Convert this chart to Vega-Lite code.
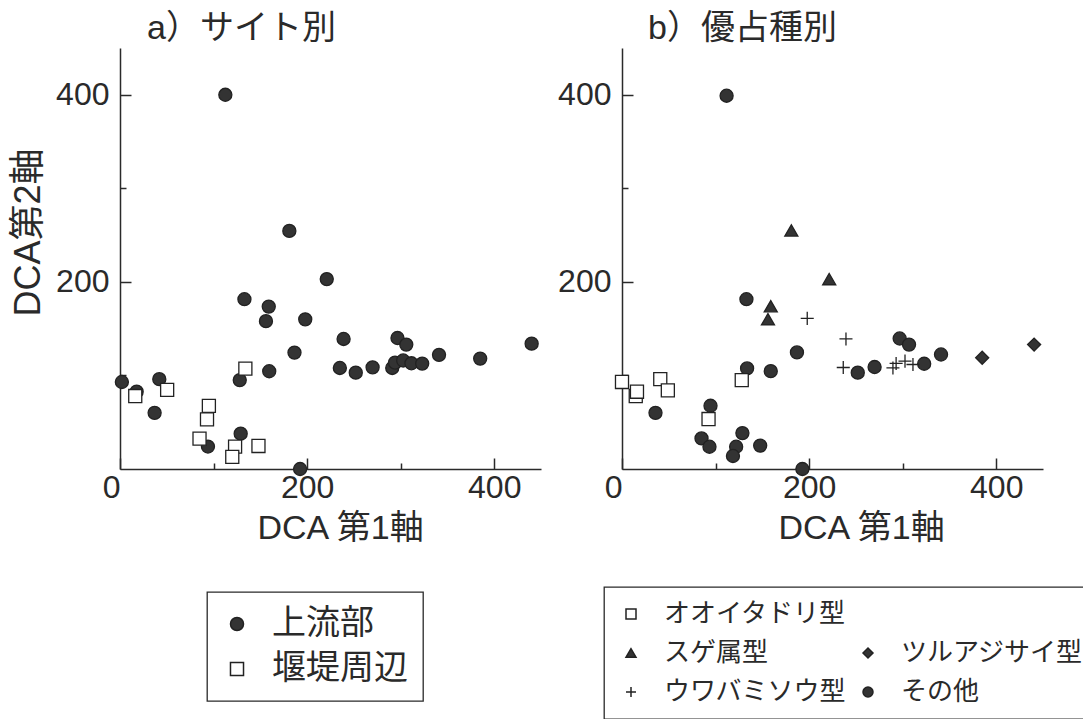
{
  "$schema": "https://vega.github.io/schema/vega-lite/v6.json",
  "padding": {"left": 10, "top": 12, "right": 0, "bottom": 0},
  "spacing": 81,
  "bounds": "flush",
  "datasets": {
    "siteData": [
      {"x": 112.6, "y": 400, "site": "上流部"},
      {"x": 181, "y": 254.5, "site": "上流部"},
      {"x": 221, "y": 203, "site": "上流部"},
      {"x": 133, "y": 181.5, "site": "上流部"},
      {"x": 159, "y": 173.6, "site": "上流部"},
      {"x": 156, "y": 158, "site": "上流部"},
      {"x": 198, "y": 160, "site": "上流部"},
      {"x": 239, "y": 139, "site": "上流部"},
      {"x": 296.6, "y": 140, "site": "上流部"},
      {"x": 306, "y": 133, "site": "上流部"},
      {"x": 440, "y": 134, "site": "上流部"},
      {"x": 186.5, "y": 124.4, "site": "上流部"},
      {"x": 341, "y": 122, "site": "上流部"},
      {"x": 385, "y": 118, "site": "上流部"},
      {"x": 235, "y": 108, "site": "上流部"},
      {"x": 252, "y": 103, "site": "上流部"},
      {"x": 270, "y": 108.7, "site": "上流部"},
      {"x": 291, "y": 108, "site": "上流部"},
      {"x": 294, "y": 113.7, "site": "上流部"},
      {"x": 302.7, "y": 116, "site": "上流部"},
      {"x": 311.5, "y": 113, "site": "上流部"},
      {"x": 323, "y": 112.7, "site": "上流部"},
      {"x": 159.5, "y": 104.5, "site": "上流部"},
      {"x": 128, "y": 95, "site": "上流部"},
      {"x": 2, "y": 93, "site": "上流部"},
      {"x": 42, "y": 96, "site": "上流部"},
      {"x": 37, "y": 60, "site": "上流部"},
      {"x": 129, "y": 37.8, "site": "上流部"},
      {"x": 94, "y": 24, "site": "上流部"},
      {"x": 192.5, "y": 0, "site": "上流部"},
      {"x": 17.8, "y": 82.7, "site": "上流部"},
      {"x": 16.3, "y": 78, "site": "堰堤周辺"},
      {"x": 50.4, "y": 84.5, "site": "堰堤周辺"},
      {"x": 134, "y": 107.3, "site": "堰堤周辺"},
      {"x": 95, "y": 67.4, "site": "堰堤周辺"},
      {"x": 93, "y": 53, "site": "堰堤周辺"},
      {"x": 85, "y": 32.4, "site": "堰堤周辺"},
      {"x": 123, "y": 24, "site": "堰堤周辺"},
      {"x": 120, "y": 13, "site": "堰堤周辺"},
      {"x": 148, "y": 24.6, "site": "堰堤周辺"}
    ],
    "typeData": [
      {"x": 111.8, "y": 399, "type": "その他"},
      {"x": 133, "y": 181.5, "type": "その他"},
      {"x": 187, "y": 124.6, "type": "その他"},
      {"x": 296.8, "y": 139.5, "type": "その他"},
      {"x": 306.8, "y": 133, "type": "その他"},
      {"x": 341, "y": 122.4, "type": "その他"},
      {"x": 323, "y": 112.5, "type": "その他"},
      {"x": 270, "y": 109, "type": "その他"},
      {"x": 252, "y": 103, "type": "その他"},
      {"x": 133.7, "y": 107.5, "type": "その他"},
      {"x": 159, "y": 104.6, "type": "その他"},
      {"x": 35.8, "y": 60, "type": "その他"},
      {"x": 94.6, "y": 67.6, "type": "その他"},
      {"x": 85, "y": 32.7, "type": "その他"},
      {"x": 93.5, "y": 23.8, "type": "その他"},
      {"x": 128.7, "y": 38.4, "type": "その他"},
      {"x": 122, "y": 23.8, "type": "その他"},
      {"x": 118.6, "y": 13.9, "type": "その他"},
      {"x": 147.7, "y": 25, "type": "その他"},
      {"x": 192.8, "y": 0, "type": "その他"},
      {"x": 181, "y": 255, "type": "スゲ属型"},
      {"x": 221.5, "y": 203, "type": "スゲ属型"},
      {"x": 159, "y": 174, "type": "スゲ属型"},
      {"x": 156, "y": 160, "type": "スゲ属型"},
      {"x": 198, "y": 161, "type": "ウワバミソウ型"},
      {"x": 239.4, "y": 139, "type": "ウワバミソウ型"},
      {"x": 236.5, "y": 108.5, "type": "ウワバミソウ型"},
      {"x": 289.6, "y": 108, "type": "ウワバミソウ型"},
      {"x": 293, "y": 112.8, "type": "ウワバミソウ型"},
      {"x": 302.5, "y": 115.3, "type": "ウワバミソウ型"},
      {"x": 311, "y": 111.7, "type": "ウワバミソウ型"},
      {"x": 385, "y": 118.9, "type": "ツルアジサイ型"},
      {"x": 440.5, "y": 133, "type": "ツルアジサイ型"},
      {"x": 0, "y": 93, "type": "オオイタドリ型"},
      {"x": 14.7, "y": 78, "type": "オオイタドリ型"},
      {"x": 16, "y": 82.6, "type": "オオイタドリ型"},
      {"x": 40.9, "y": 96, "type": "オオイタドリ型"},
      {"x": 49, "y": 84, "type": "オオイタドリ型"},
      {"x": 128, "y": 95, "type": "オオイタドリ型"},
      {"x": 92.5, "y": 53.4, "type": "オオイタドリ型"}
    ]
  },
  "hconcat": [
    {
      "width": 421,
      "height": 421,
      "data": {"name": "siteData"},
      "title": {"text": "a）サイト別", "anchor": "start", "frame": "group", "dx": 27, "offset": -25, "baseline": "alphabetic", "fontSize": 34, "fontWeight": "normal", "color": "#2a2a2a", "font": "Liberation Sans, Noto Sans CJK JP"},
      "mark": {"type": "point", "filled": false, "size": 170, "stroke": "#222222", "strokeWidth": 1.3, "opacity": 1, "clip": false},
      "encoding": {
        "x": {"field": "x", "type": "quantitative", "scale": {"domain": [0, 450], "nice": false, "zero": false},
          "axis": {"title": "DCA 第1軸", "titleX": 220, "values": [0, 100, 200, 300, 400],
            "labelExpr": "datum.value % 200 === 0 ? datum.label : ''",
            "tickSize": {"condition": {"test": "datum.value % 200 === 0", "value": -11}, "value": -6},
            "labelAlign": {"condition": {"test": "datum.value === 0", "value": "right"}, "value": "center"}}},
        "y": {"field": "y", "type": "quantitative", "scale": {"domain": [0, 450], "nice": false, "zero": false},
          "axis": {"title": "DCA第2軸", "values": [100, 200, 300, 400], "titleFontSize": 36, "titleY": 184, "titlePadding": 8,
            "labelExpr": "datum.value % 200 === 0 ? datum.label : ''",
            "tickSize": {"condition": {"test": "datum.value % 200 === 0", "value": -11}, "value": -6}}},
        "shape": {"field": "site", "type": "nominal",
          "scale": {"domain": ["上流部", "堰堤周辺"], "range": ["circle", "square"]},
          "legend": {"title": null, "orient": "none", "legendX": 87, "legendY": 544, "symbolSize": 170, "labelFontSize": 34, "padding": 15, "rowPadding": 11, "labelOffset": 18, "symbolOffset": -2, "labelLimit": 400,
            "encode": {"symbols": {"update": {"stroke": {"value": "#222222"}, "strokeWidth": {"value": 1.3}}}}}},
        "fill": {"field": "site", "type": "nominal",
          "scale": {"domain": ["上流部", "堰堤周辺"], "range": ["#333333", "#ffffff"]},
          "legend": {"title": null, "orient": "none", "legendX": 87, "legendY": 544, "symbolSize": 170, "labelFontSize": 34, "padding": 15, "rowPadding": 11, "labelOffset": 18, "symbolOffset": -2, "labelLimit": 400,
            "encode": {"symbols": {"update": {"stroke": {"value": "#222222"}, "strokeWidth": {"value": 1.3}}}}}}
      }
    },
    {
      "width": 421,
      "height": 421,
      "data": {"name": "typeData"},
      "title": {"text": "b）優占種別", "anchor": "start", "frame": "group", "dx": 26, "offset": -25, "baseline": "alphabetic", "fontSize": 34, "fontWeight": "normal", "color": "#2a2a2a", "font": "Liberation Sans, Noto Sans CJK JP"},
      "mark": {"type": "point", "filled": false, "size": 170, "stroke": "#222222", "strokeWidth": 1.3, "opacity": 1, "clip": false},
      "encoding": {
        "x": {"field": "x", "type": "quantitative", "scale": {"domain": [0, 450], "nice": false, "zero": false},
          "axis": {"title": "DCA 第1軸", "titleX": 239, "values": [0, 100, 200, 300, 400],
            "labelExpr": "datum.value % 200 === 0 ? datum.label : ''",
            "tickSize": {"condition": {"test": "datum.value % 200 === 0", "value": -11}, "value": -6},
            "labelAlign": {"condition": {"test": "datum.value === 0", "value": "right"}, "value": "center"}}},
        "y": {"field": "y", "type": "quantitative", "scale": {"domain": [0, 450], "nice": false, "zero": false},
          "axis": {"title": null, "values": [100, 200, 300, 400],
            "labelExpr": "datum.value % 200 === 0 ? datum.label : ''",
            "tickSize": {"condition": {"test": "datum.value % 200 === 0", "value": -11}, "value": -6}}},
        "shape": {"field": "type", "type": "nominal",
          "scale": {"domain": ["オオイタドリ型", "スゲ属型", "ウワバミソウ型", " ", "ツルアジサイ型", "その他"], "range": ["square", "triangle-up", "M-1,0H1M0,-1V1", "M0,0", "diamond", "circle"]},
          "legend": {"title": null, "orient": "none", "legendX": -18, "legendY": 539, "columns": 2, "columnPadding": 8, "symbolSize": 100, "labelFontSize": 26, "padding": 14, "rowPadding": 13, "labelOffset": 20, "symbolOffset": 0, "labelLimit": 400,
            "encode": {"symbols": {"update": {"stroke": {"value": "#222222"}, "strokeWidth": {"value": 1.3}}}}}},
        "fill": {"field": "type", "type": "nominal",
          "scale": {"domain": ["オオイタドリ型", "スゲ属型", "ウワバミソウ型", " ", "ツルアジサイ型", "その他"], "range": ["#ffffff", "#333333", "#333333", "transparent", "#333333", "#333333"]},
          "legend": {"title": null, "orient": "none", "legendX": -18, "legendY": 539, "columns": 2, "columnPadding": 8, "symbolSize": 100, "labelFontSize": 26, "padding": 14, "rowPadding": 13, "labelOffset": 20, "symbolOffset": 0, "labelLimit": 400,
            "encode": {"symbols": {"update": {"stroke": {"value": "#222222"}, "strokeWidth": {"value": 1.3}}}}}}
      }
    }
  ],
  "resolve": {"scale": {"x": "independent", "y": "independent", "shape": "independent", "fill": "independent"}, "legend": {"shape": "independent", "fill": "independent"}},
  "config": {
    "view": {"stroke": null},
    "font": "Liberation Sans, Noto Sans CJK JP",
    "axis": {
      "grid": false,
      "domainColor": "#2a2a2a",
      "domainWidth": 1.5,
      "tickColor": "#2a2a2a",
      "tickWidth": 1.5,
      "labelFont": "Liberation Sans, Noto Sans CJK JP",
      "labelFontSize": 32,
      "labelColor": "#2a2a2a",
      "labelPadding": 14,
      "labelFlush": false,
      "labelOverlap": false,
      "titleFont": "Liberation Sans, Noto Sans CJK JP",
      "titleFontSize": 34,
      "titleFontWeight": "normal",
      "titleColor": "#2a2a2a",
      "titlePadding": 3
    },
    "axisY": {"labelPadding": 22},
    "legend": {
      "strokeColor": "#2a2a2a",
      "strokeWidth": 1.3,
      "labelFont": "Liberation Sans, Noto Sans CJK JP",
      "labelColor": "#2a2a2a"
    }
  }
}
